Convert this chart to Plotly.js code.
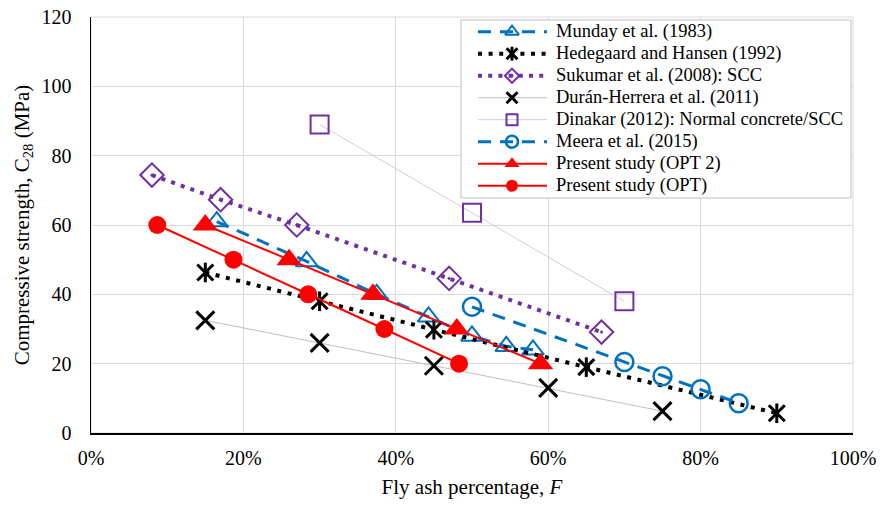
<!DOCTYPE html>
<html>
<head>
<meta charset="utf-8">
<script src="https://cdn.plot.ly/plotly-3.0.1.min.js"></script>
<style>html,body{margin:0;padding:0;background:#fff;}#chart{width:880px;height:507px;}</style>
</head>
<body>
<div id="chart"></div>
<script>
// Data (fly ash fraction, compressive strength MPa)
const mundayX = [0.165, 0.283, 0.375, 0.443, 0.50, 0.545, 0.58];
const mundayY = [61, 49.5, 40, 33.5, 28, 25, 24];

const hedegaardX = [0.15, 0.30, 0.45, 0.65, 0.90];
const hedegaardY = [46.3, 38, 29.8, 19, 5.7];

const sukumarX = [0.08, 0.17, 0.27, 0.47, 0.67];
const sukumarY = [74.4, 67.3, 60, 44.6, 29.1];

const duranX = [0.15, 0.30, 0.45, 0.60, 0.75];
const duranY = [32.5, 26, 19.4, 13, 6.3];

const dinakarX = [0.30, 0.50, 0.70];
const dinakarY = [89, 63.5, 38];

const meeraX = [0.50, 0.70, 0.75, 0.80, 0.85];
const meeraY = [36.4, 20.5, 16.4, 12.6, 8.6];

const opt2X = [0.15, 0.26, 0.37, 0.48, 0.59];
const opt2Y = [60, 50, 40, 30, 20];

const optX = [0.087, 0.187, 0.285, 0.385, 0.483];
const optY = [60, 50, 40, 30, 20];

const seriesNames = [
  'Munday et al. (1983)',
  'Hedegaard and Hansen (1992)',
  'Sukumar et al. (2008): SCC',
  'Durán-Herrera et al. (2011)',
  'Dinakar (2012): Normal concrete/SCC',
  'Meera et al. (2015)',
  'Present study (OPT 2)',
  'Present study (OPT)'
];

const xTickVals = [0, 0.2, 0.4, 0.6, 0.8, 1.0];
const xTickText = ['0%', '20%', '40%', '60%', '80%', '100%'];
const yTickVals = [0, 20, 40, 60, 80, 100, 120];

const BLUE = '#0070C0', PURPLE = '#7030A0', RED = '#FF0000';
const FONT = '"Liberation Serif", "Times New Roman", serif';

// Series styles (used for both plot and hand-built legend)
const styles = [
  {line: {color: BLUE, width: 3, dash: '13px,9px'},
   marker: {symbol: 'triangle-up-open', size: 19, color: BLUE, line: {width: 2, color: BLUE}}, legSize: 12},
  {line: {color: '#000', width: 4, dash: '4px,6.6px'},
   marker: {symbol: 'x-thin-open', size: 16, color: '#000', line: {width: 3, color: '#000'}}, legSize: 11,
   extra: {symbol: 'line-ns-open', size: 14, color: '#000', line: {width: 3, color: '#000'}}},
  {line: {color: PURPLE, width: 4, dash: '4px,6.2px'},
   marker: {symbol: 'diamond-open-dot', size: 18, color: PURPLE, line: {width: 2, color: PURPLE}}, legSize: 11},
  {line: {color: '#BFBFBF', width: 1},
   marker: {symbol: 'x-thin-open', size: 18, color: '#000', line: {width: 3, color: '#000'}}, legSize: 11},
  {line: {color: '#D5C6EA', width: 1},
   marker: {symbol: 'square-open', size: 18, color: PURPLE, line: {width: 2, color: PURPLE}}, legSize: 11},
  {line: {color: BLUE, width: 3, dash: '13px,9px'},
   marker: {symbol: 'circle-open', size: 18, color: BLUE, line: {width: 2.5, color: BLUE}}, legSize: 12},
  {line: {color: RED, width: 2},
   marker: {symbol: 'triangle-up', size: 22, color: RED}, legSize: 13},
  {line: {color: RED, width: 2},
   marker: {symbol: 'circle', size: 18, color: RED}, legSize: 12}
];

const seriesX = [mundayX, hedegaardX, sukumarX, duranX, dinakarX, meeraX, opt2X, optX];
const seriesY = [mundayY, hedegaardY, sukumarY, duranY, dinakarY, meeraY, opt2Y, optY];

const traces = [];
seriesX.forEach((xs, i) => {
  const st = styles[i];
  traces.push({x: xs, y: seriesY[i], name: seriesNames[i], mode: 'lines+markers',
               line: st.line, marker: st.marker, cliponaxis: false});
  if (st.extra) {
    traces.push({x: xs, y: seriesY[i], name: seriesNames[i], mode: 'markers',
                 marker: st.extra, cliponaxis: false});
  }
});

// Hand-built legend on a pixel-unit overlay axis (compact row spacing like the original)
const LEG = {left: 461, right: 851, top: 20, bottom: 198, lineX0: 478, lineX1: 547,
             markX: 512, textX: 554, row0: 31.7, rowStep: 22};
traces.push({x: [LEG.left, LEG.right, LEG.right, LEG.left, LEG.left],
             y: [LEG.top, LEG.top, LEG.bottom, LEG.bottom, LEG.top],
             xaxis: 'x2', yaxis: 'y2', mode: 'lines', fill: 'toself', fillcolor: '#FFFFFF',
             line: {color: '#BFBFBF', width: 1}, hoverinfo: 'skip'});
const annotations = [];
seriesNames.forEach((nm, i) => {
  const st = styles[i];
  const ry = LEG.row0 + LEG.rowStep * i;
  traces.push({x: [LEG.lineX0, LEG.lineX1], y: [ry, ry], xaxis: 'x2', yaxis: 'y2',
               mode: 'lines', line: st.line, hoverinfo: 'skip'});
  const mk = Object.assign({}, st.marker, {size: st.legSize});
  traces.push({x: [LEG.markX], y: [ry], xaxis: 'x2', yaxis: 'y2', mode: 'markers',
               marker: mk, hoverinfo: 'skip'});
  if (st.extra) {
    traces.push({x: [LEG.markX], y: [ry], xaxis: 'x2', yaxis: 'y2', mode: 'markers',
                 marker: Object.assign({}, st.extra, {size: st.legSize * 0.9}), hoverinfo: 'skip'});
  }
  annotations.push({xref: 'x2', yref: 'y2', x: LEG.textX, y: ry, text: nm, showarrow: false,
                    xanchor: 'left', yanchor: 'middle',
                    font: {family: FONT, size: 18.5, color: '#000'}});
});

const layout = {
  width: 880, height: 507,
  margin: {l: 91, r: 27, t: 17, b: 74},
  paper_bgcolor: '#fff', plot_bgcolor: '#fff',
  font: {family: FONT, size: 20, color: '#000'},
  showlegend: false,
  xaxis: {
    range: [0, 1], tickvals: xTickVals, ticktext: xTickText,
    showgrid: true, gridcolor: '#D9D9D9', gridwidth: 1,
    showline: true, linecolor: '#000', linewidth: 1.5,
    zeroline: false, ticks: '', ticklabelstandoff: 6,
    tickfont: {family: FONT, size: 20},
    title: {text: 'Fly ash percentage, <i>F</i>', font: {family: FONT, size: 21}, standoff: 12}
  },
  yaxis: {
    range: [0, 120], tickvals: yTickVals,
    showgrid: true, gridcolor: '#D9D9D9', gridwidth: 1,
    showline: true, linecolor: '#000', linewidth: 1.5,
    zeroline: false, ticks: '', ticklabelstandoff: 14,
    tickfont: {family: FONT, size: 20},
    title: {text: 'Compressive strength, C<sub>28</sub> (MPa)', font: {family: FONT, size: 21}, standoff: 6}
  },
  xaxis2: {overlaying: 'x', anchor: 'y2', range: [91, 853], visible: false, fixedrange: true},
  yaxis2: {overlaying: 'y', anchor: 'x2', range: [433, 17], visible: false, fixedrange: true},
  annotations: annotations,
  shapes: [{type: 'rect', xref: 'paper', yref: 'paper', x0: 0, x1: 1, y0: 0, y1: 1,
            line: {color: '#D9D9D9', width: 1}, layer: 'below'}]
};

Plotly.newPlot('chart', traces, layout, {staticPlot: true, displayModeBar: false});
</script>
</body>
</html>
